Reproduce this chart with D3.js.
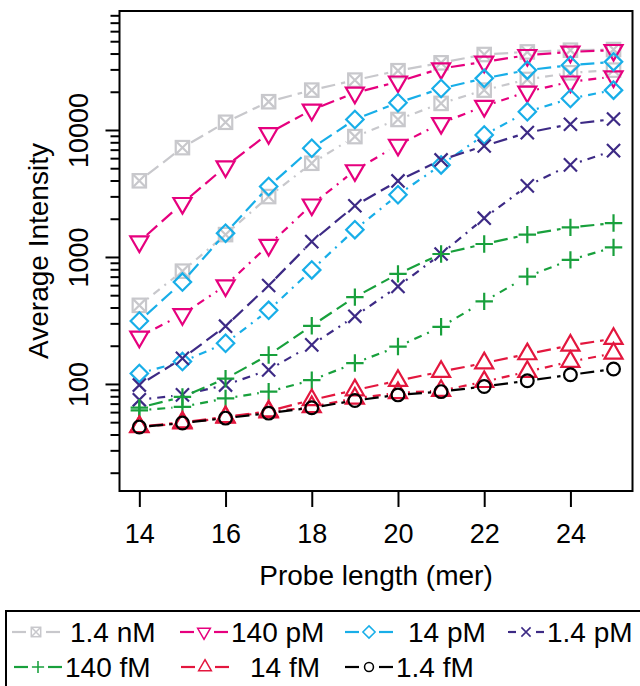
<!DOCTYPE html>
<html>
<head>
<meta charset="utf-8">
<script src="https://cdn.jsdelivr.net/npm/d3@7"></script>
<style>
html,body{margin:0;padding:0;background:#fff;}
svg text{font-family:"Liberation Sans",Arial,Helvetica,sans-serif;fill:#000;}
</style>
</head>
<body>
<svg id="chart" width="640" height="686"></svg>
<script>
// ---- data ----
const probeLengths = [14,15,16,17,18,19,20,21,22,23,24,25];
const xTicks = [14,16,18,20,22,24];
const yTickLabels = [100,1000,10000];
const concLabels = ["1.4 nM","140 pM","14 pM","1.4 pM","140 fM","14 fM","1.4 fM"];
const concColors = ["#c8c8cc","#e6007e","#18aee8","#3d2a85","#18a03c","#e3173e","#000000"];
const concShapes = ["squareX","triDown","diamond","cross","plus","triUp","circle"];

const gray1_4nM_a   = [3980,7260,11500,16700,20600,24700,29300,33800,39300,41200,42500,43000];
const gray1_4nM_b   = [416,773,1500,2990,5470,8870,12100,16200,20600,25000,28200,29600];
const mag140pM_a    = [1320,2650,5150,9420,14400,19600,24000,30500,34400,38800,41200,42500];
const mag140pM_b    = [235,353,596,1240,2580,4800,7620,11300,15400,20000,24000,26300];
const cyan14pM_a    = [313,634,1540,3590,7180,12100,16400,21200,25500,29600,32400,34400];
const cyan14pM_b    = [121,150,209,380,791,1640,3090,5310,9140,13900,17700,20600];
const purp1_4pM_a   = [98,159,285,596,1320,2530,3970,5810,7480,9530,11100,12200];
const purp1_4pM_b   = [75,82,98,129,203,341,586,1055,2020,3630,5310,6880];
const green140fM_a  = [65,79,110,169,287,483,736,1055,1265,1500,1710,1850];
const green140fM_b  = [62,66,77,87,107,146,197,282,447,701,948,1190];
const red14fM_a     = [46,50,55,61,74.8,89.5,106,125,146,172,201,227];
const red14fM_b     = [45.8,49,54.5,60,66,77,85,88.6,104,125,150,174];
const black1_4fM_a  = [45.8,49.2,53.8,58.9,65,74,82,87,95.5,106,118,131];

// series: [values, concentration index, line type]
const seriesList = [
  [gray1_4nM_a,0,"a"],[gray1_4nM_b,0,"b"],
  [mag140pM_a,1,"a"],[mag140pM_b,1,"b"],
  [cyan14pM_a,2,"a"],[cyan14pM_b,2,"b"],
  [purp1_4pM_a,3,"a"],[purp1_4pM_b,3,"b"],
  [green140fM_a,4,"a"],[green140fM_b,4,"b"],
  [red14fM_a,5,"a"],[red14fM_b,5,"b"],
  [black1_4fM_a,6,"a"]
];

// ---- layout ----
const svg = d3.select("#chart");
const L = 119.5, R = 632.5, T = 11, B = 491;
const FS = 27, FT = 28;
const x = d3.scaleLinear().domain([13.54,25.44]).range([L,R]);
const y = d3.scaleLog().domain([Math.pow(10,1.157),Math.pow(10,4.937)]).range([B,T]);

const dashA = "14,6";
const dashB = "2,6,8,6";
const LW = 2.2;
const R0 = 6.7;

function drawSymbol(g, shape, cx, cy, color){
  const s = g.append("g").attr("transform",`translate(${cx},${cy})`)
    .attr("fill","none").attr("stroke",color).attr("stroke-width",LW);
  if(shape==="circle"){
    s.append("circle").attr("r",R0*0.95);
  } else if(shape==="squareX"){
    const h = R0*1.0;
    s.append("rect").attr("x",-h).attr("y",-h).attr("width",2*h).attr("height",2*h);
    s.append("path").attr("d",`M${-h},${-h}L${h},${h}M${-h},${h}L${h},${-h}`);
  } else if(shape==="triUp" || shape==="triDown"){
    const r = R0*1.555, hw = r*Math.sqrt(3)/2, sgn = shape==="triUp"?1:-1;
    s.append("path").attr("d",`M0,${-sgn*r}L${hw},${sgn*r/2}L${-hw},${sgn*r/2}Z`);
  } else if(shape==="diamond"){
    const d = R0*1.3;
    s.append("path").attr("d",`M0,${-d}L${d},0L0,${d}L${-d},0Z`);
  } else if(shape==="plus"){
    const p = R0*1.3;
    s.append("path").attr("d",`M${-p},0L${p},0M0,${-p}L0,${p}`);
  } else if(shape==="cross"){
    const c = R0*0.98;
    s.append("path").attr("d",`M${-c},${-c}L${c},${c}M${-c},${c}L${c},${-c}`);
  }
}

// ---- series lines and points ----
const plot = svg.append("g");
const gap = 10;
seriesList.forEach(([vals,ci,type])=>{
  const color = concColors[ci];
  const pts = probeLengths.map((p,i)=>[x(p),y(vals[i])]);
  const lg = plot.append("g");
  for(let i=0;i<pts.length-1;i++){
    const [x0,y0]=pts[i],[x1,y1]=pts[i+1];
    const dx=x1-x0, dy=y1-y0, d=Math.hypot(dx,dy);
    if(d<=2*gap) continue;
    const ux=dx/d, uy=dy/d;
    lg.append("line")
      .attr("x1",x0+ux*gap).attr("y1",y0+uy*gap)
      .attr("x2",x1-ux*gap).attr("y2",y1-uy*gap)
      .attr("stroke",color).attr("stroke-width",LW)
      .attr("stroke-dasharray",type==="a"?dashA:dashB);
  }
  pts.forEach(([px,py])=>drawSymbol(plot,concShapes[ci],px,py,color));
});

// ---- axes ----
const axG = svg.append("g").attr("stroke","#000").attr("stroke-width",2);
axG.append("rect").attr("x",L).attr("y",T).attr("width",R-L).attr("height",B-T).attr("fill","none");
// x ticks
const xAxis = d3.axisBottom(x).tickValues(xTicks).tickSize(16).tickSizeOuter(0).tickFormat(d3.format("d"));
const xg = svg.append("g").attr("transform",`translate(0,${B})`).call(xAxis);
xg.select(".domain").remove();
xg.selectAll(".tick line").attr("stroke","#000").attr("stroke-width",2);
xg.selectAll(".tick text").attr("font-size",FS).attr("y",null).attr("dy",null)
  .attr("transform","translate(0,52)").style("font-family",'"Liberation Sans",Arial,sans-serif').attr("fill","#000");

// y minor ticks
const minorVals = [];
[10,100,1000,10000].forEach(dec=>{for(let k=2;k<=9;k++){const v=dec*k; if(y(v)>=T && y(v)<=B) minorVals.push(v);} });
const yMinor = d3.axisLeft(y).tickValues(minorVals).tickSize(9).tickFormat("");
const ymg = svg.append("g").attr("transform",`translate(${L},0)`).call(yMinor);
ymg.select(".domain").remove();
ymg.selectAll(".tick line").attr("stroke","#000").attr("stroke-width",2);
// y major ticks
const yMajor = d3.axisLeft(y).tickValues(yTickLabels).tickSize(14).tickFormat(d3.format("d"));
const yg = svg.append("g").attr("transform",`translate(${L},0)`).call(yMajor);
yg.select(".domain").remove();
yg.selectAll(".tick line").attr("stroke","#000").attr("stroke-width",2);
yg.selectAll(".tick text").attr("font-size",FS).attr("x",null).attr("dy",null)
  .attr("text-anchor","middle")
  .attr("transform",`translate(${88-L},0) rotate(-90)`)
  .style("font-family",'"Liberation Sans",Arial,sans-serif').attr("fill","#000");

// axis titles
svg.append("text").attr("x",(L+R)/2).attr("y",585).attr("text-anchor","middle")
  .attr("font-size",FT).text("Probe length (mer)");
svg.append("text").attr("transform",`translate(48,${(T+B)/2}) rotate(-90)`).attr("text-anchor","middle")
  .attr("font-size",FT).text("Average Intensity");

// ---- legend ----
const lg = svg.append("g");
lg.append("rect").attr("x",6).attr("y",611).attr("width",700).attr("height",120)
  .attr("fill","none").attr("stroke","#000").attr("stroke-width",2);
const legSymX = [36,204,369,526,38,205,369];
const legDash = [24,24,24,18,24,24,24];
const legRowY = [632,667];
const legTextX = [70,231,408,547,65,250,396];
concLabels.forEach((lab,i)=>{
  const row = i<4?0:1;
  const cy = legRowY[row], cx = legSymX[i], dl = legDash[i];
  const color = concColors[i];
  lg.append("line").attr("x1",cx-dl).attr("x2",cx-10).attr("y1",cy).attr("y2",cy)
    .attr("stroke",color).attr("stroke-width",LW);
  lg.append("line").attr("x1",cx+10).attr("x2",cx+dl).attr("y1",cy).attr("y2",cy)
    .attr("stroke",color).attr("stroke-width",LW);
  const g = lg.append("g").attr("transform",`translate(${cx},${cy}) scale(0.7)`);
  drawSymbol(g,concShapes[i],0,0,color);
  lg.append("text").attr("x",legTextX[i]).attr("y",cy+10).attr("font-size",FT).text(lab);
});
</script>
</body>
</html>
